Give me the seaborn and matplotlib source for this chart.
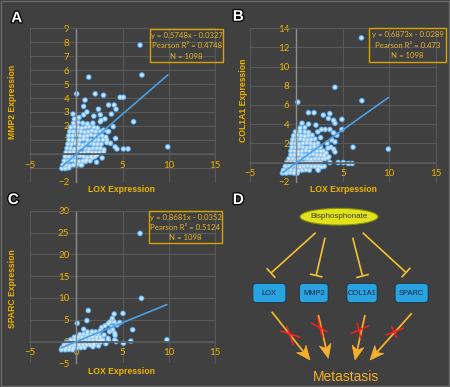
import matplotlib
matplotlib.use("Agg")
import numpy as np
import pandas as pd
import seaborn as sns
import matplotlib.pyplot as plt
from matplotlib.patches import Ellipse, FancyBboxPatch, Rectangle, Polygon
import matplotlib.patheffects as pe

# ---------------- data ----------------
# Panel A: LOX vs MMP2
a_points = [
    (6.9, 7.8), (7.1, 5.65), (1.35, 5.5), (0.05, 4.3), (2.05, 4.3), (2.95, 4.2), (4.75, 4.05), (5.1, 4.05),
    (0.95, 3.85), (3.5, 3.5), (4.1, 3.5), (4.3, 3.2), (0.8, 3.4), (1.15, 3.0), (3.8, 2.85), (2.4, 3.2),
    (2.6, 2.8), (1.9, 2.7), (-0.35, 2.85), (3.1, 2.5), (2.6, 2.3), (4.0, 1.95), (3.5, 1.6), (2.95, 1.7),
    (6.2, 2.3), (3.3, 1.0), (3.7, 0.75), (4.2, 0.5), (4.4, 0.35), (5.1, 0.35), (5.6, 0.35), (9.9, 0.5),
    (2.95, 0.15), (2.2, -0.1), (1.7, -0.3), (1.0, -0.55), (0.6, -0.8), (4.25, 1.1),
    (-0.3, 2.2), (0.2, 2.25), (0.7, 2.2), (1.2, 2.15), (1.8, 2.2),
    (-0.6, 1.9), (-0.2, 1.95), (0.2, 1.9), (0.6, 1.85), (1.0, 1.9), (1.4, 1.95), (1.9, 1.9), (2.3, 1.85),
    (-0.7, 1.6), (-0.3, 1.6), (0.1, 1.65), (0.5, 1.6), (0.9, 1.55), (1.3, 1.6), (1.7, 1.65), (2.1, 1.6), (2.6, 1.6),
    (-0.8, 1.3), (-0.4, 1.3), (0.0, 1.35), (0.4, 1.3), (0.8, 1.25), (1.2, 1.3), (1.6, 1.35), (2.0, 1.3), (2.4, 1.3), (2.8, 1.3),
    (-0.8, 1.0), (-0.4, 1.0), (0.0, 0.95), (0.4, 1.0), (0.8, 1.05), (1.2, 1.0), (1.6, 0.95), (2.0, 1.0), (2.4, 1.0), (2.9, 1.0),
    (-0.9, 0.7), (-0.5, 0.7), (-0.1, 0.75), (0.3, 0.7), (0.7, 0.65), (1.1, 0.7), (1.5, 0.75), (1.9, 0.7), (2.3, 0.7), (2.7, 0.7),
    (-1.0, 0.4), (-0.6, 0.4), (-0.2, 0.35), (0.2, 0.4), (0.6, 0.45), (1.0, 0.4), (1.4, 0.35), (1.8, 0.4), (2.2, 0.4), (2.6, 0.4),
    (-1.1, 0.1), (-0.7, 0.1), (-0.3, 0.15), (0.1, 0.1), (0.5, 0.05), (0.9, 0.1), (1.3, 0.15), (1.7, 0.1), (2.1, 0.1), (2.5, 0.1),
    (-1.2, -0.2), (-0.8, -0.2), (-0.4, -0.25), (0.0, -0.2), (0.4, -0.15), (0.8, -0.2), (1.2, -0.25), (1.6, -0.2), (2.0, -0.2),
    (-1.3, -0.5), (-0.9, -0.5), (-0.5, -0.45), (-0.1, -0.5), (0.3, -0.55), (0.7, -0.5), (1.1, -0.45), (1.5, -0.5),
    (-1.45, -0.8), (-1.1, -0.8), (-0.7, -0.85), (-0.3, -0.8), (0.1, -0.75), (0.5, -0.8),
    (-1.55, -1.05), (-1.2, -1.05), (-0.8, -1.0),
    (2.7, 2.4), (0.3, 2.6), (0.8, 2.8), (-0.2, 2.5), (3.2, 1.2), (3.3, 0.8), (3.0, 0.3), (2.8, -0.3), (2.2, -0.6), (3.4, 1.6),
]
a_fit = (0.5748, -0.0327)
a_stats = ["y = 0.5748x - 0.0327", "Pearson R\u00b2 = 0.4748", "N = 1098"]

# Panel B: LOX vs COL1A1
b_points = [
    (7.0, 13.0), (4.15, 7.85), (0.15, 6.3), (7.05, 6.45), (3.6, 5.1), (1.3, 5.2), (1.9, 5.2), (2.9, 4.95),
    (3.45, 4.6), (4.0, 4.4), (4.15, 4.1), (4.9, 4.5), (2.1, 3.9), (2.7, 3.45), (3.1, 3.45), (3.6, 3.45),
    (4.0, 3.1), (4.35, 2.85), (4.9, 3.45), (3.8, 2.35), (4.15, 2.15), (6.1, 1.6), (9.9, 1.4), (4.0, 1.4),
    (4.15, 1.1), (3.0, 0.7), (3.4, 0.5), (4.5, 0.0), (5.05, 0.0), (3.6, 0.0), (5.6, -0.1), (6.0, -0.1),
    (2.7, -0.45), (2.35, -0.8), (3.2, 1.0), (3.7, 1.6),
    (0.4, 3.6), (0.9, 3.65),
    (-0.1, 3.2), (0.4, 3.25), (0.9, 3.2), (1.3, 3.15),
    (-0.3, 2.8), (0.1, 2.85), (0.5, 2.8), (0.9, 2.75), (1.3, 2.8), (1.7, 2.85),
    (-0.4, 2.4), (0.0, 2.4), (0.4, 2.45), (0.8, 2.4), (1.2, 2.35), (1.6, 2.4), (2.0, 2.45),
    (-0.5, 2.0), (-0.1, 2.0), (0.3, 1.95), (0.7, 2.0), (1.1, 2.05), (1.5, 2.0), (1.9, 1.95), (2.3, 2.0),
    (-0.5, 1.6), (-0.1, 1.6), (0.3, 1.65), (0.7, 1.6), (1.1, 1.55), (1.5, 1.6), (1.9, 1.65), (2.3, 1.6), (2.6, 1.6),
    (-0.6, 1.2), (-0.2, 1.2), (0.2, 1.15), (0.6, 1.2), (1.0, 1.25), (1.4, 1.2), (1.8, 1.15), (2.2, 1.2), (2.6, 1.2), (2.9, 1.2),
    (-0.6, 0.8), (-0.2, 0.8), (0.2, 0.85), (0.6, 0.8), (1.0, 0.75), (1.4, 0.8), (1.8, 0.85), (2.2, 0.8), (2.6, 0.8), (3.0, 0.8),
    (-0.8, 0.4), (-0.4, 0.4), (0.0, 0.35), (0.4, 0.4), (0.8, 0.45), (1.2, 0.4), (1.6, 0.35), (2.0, 0.4), (2.4, 0.4), (2.8, 0.4), (3.1, 0.4),
    (-1.0, 0.0), (-0.6, 0.0), (-0.2, 0.05), (0.2, 0.0), (0.6, -0.05), (1.0, 0.0), (1.4, 0.05), (1.8, 0.0), (2.2, 0.0), (2.6, 0.0),
    (-1.2, -0.4), (-0.8, -0.4), (-0.4, -0.35), (0.0, -0.4), (0.4, -0.45), (0.8, -0.4), (1.2, -0.35), (1.6, -0.4), (2.0, -0.4), (2.4, -0.4),
    (-1.4, -0.8), (-1.0, -0.8), (-0.6, -0.75), (-0.2, -0.8), (0.2, -0.85), (0.6, -0.8), (1.0, -0.75), (1.4, -0.8),
    (-1.5, -1.1), (-1.1, -1.1), (-0.7, -1.05), (-0.3, -1.1), (0.1, -1.1),
    (1.3, 4.0), (2.3, 3.2), (2.6, 2.6), (3.3, 2.0), (3.4, 1.5), (3.0, -0.4), (2.3, -0.7), (3.5, 0.6), (0.6, 4.1),
]
b_fit = (0.6873, -0.0289)
b_stats = ["y = 0.6873x - 0.0289", "Pearson R\u00b2 = 0.473", "N = 1098"]

# Panel C: LOX vs SPARC
c_points = [
    (6.9, 24.8), (7.05, 9.9), (1.3, 7.1), (1.15, 4.8), (0.1, 4.2), (4.1, 6.3), (5.05, 6.45), (3.9, 5.3),
    (3.65, 4.5), (4.1, 4.5), (3.45, 4.1), (3.1, 3.6), (3.85, 3.4), (4.4, 3.8), (2.75, 3.2), (3.95, 2.7),
    (4.15, 1.9), (3.6, 2.25), (6.1, 2.7), (3.45, 0.73), (4.15, 0.34), (5.1, -0.41), (5.9, 0.1), (2.75, 0.34),
    (2.4, 0.0), (1.9, -0.4), (4.7, 4.35), (4.2, 1.4), (4.3, 0.0), (9.8, 0.4), (1.6, 1.2),
    (1.2, 2.2), (1.7, 2.25), (2.1, 2.2),
    (0.4, 1.6), (0.8, 1.65), (1.2, 1.6), (1.6, 1.55), (2.0, 1.6), (2.4, 1.65),
    (-0.2, 1.0), (0.2, 1.05), (0.6, 1.0), (1.0, 0.95), (1.4, 1.0), (1.8, 1.05), (2.2, 1.0), (2.6, 1.0),
    (-0.6, 0.4), (-0.2, 0.4), (0.2, 0.35), (0.6, 0.4), (1.0, 0.45), (1.4, 0.4), (1.8, 0.35), (2.2, 0.4), (2.6, 0.4), (2.9, 0.4),
    (-1.0, -0.2), (-0.6, -0.2), (-0.2, -0.25), (0.2, -0.2), (0.6, -0.15), (1.0, -0.2), (1.4, -0.25), (1.8, -0.2), (2.2, -0.2), (2.6, -0.2),
    (-1.3, -0.8), (-0.9, -0.8), (-0.5, -0.75), (-0.1, -0.8), (0.3, -0.85), (0.7, -0.8), (1.1, -0.75), (1.5, -0.8), (1.9, -0.8),
    (-1.5, -1.4), (-1.1, -1.4), (-0.7, -1.35), (-0.3, -1.4), (0.1, -1.45), (0.5, -1.4), (0.9, -1.35),
    (-1.6, -1.9), (-1.2, -1.9), (-0.8, -1.85), (-0.4, -1.9),
    (2.6, 2.5), (3.0, 1.5), (3.2, -0.5), (2.4, -1.0), (1.8, -1.2), (3.5, 0.2), (0.8, 2.8),
]
c_fit = (0.8681, -0.0352)
c_stats = ["y = 0.8681x - 0.0352", "Pearson R\u00b2 = 0.5124", "N = 1098"]

x_ticks = [-5, 0, 5, 10, 15]
a_yticks = [-2, -1, 0, 1, 2, 3, 4, 5, 6, 7, 8, 9]
b_yticks = [-2, 0, 2, 4, 6, 8, 10, 12, 14]
c_yticks = [-5, 0, 5, 10, 15, 20, 25, 30]

genes = ["LOX", "MMP2", "COL1A1", "SPARC"]

# ---------------- style ----------------
BG = "#404040"
GRID = "#585858"
GOLD = "#f0b400"
sns.set_theme(style="dark", rc={"axes.facecolor": BG, "figure.facecolor": BG})
plt.rcParams['font.family'] = ['Lato', 'DejaVu Sans']

W, H = 450, 387
fig = plt.figure(figsize=(4.5, 3.87), dpi=100, facecolor=BG)


def px_axes(l, t, r, b):
    return fig.add_axes([l / W, 1 - b / H, (r - l) / W, (b - t) / H])


def draw_panel(ax, pts, fit, ylim, yticks):
    df = pd.DataFrame(pts, columns=["x", "y"])
    ax.set_facecolor(BG)
    # glowing dots: blue halo, light-blue body, pale centre
    sns.scatterplot(data=df, x="x", y="y", ax=ax, s=18, color="#3a8fdc", linewidth=0,
                    edgecolor="none", zorder=2)
    sns.scatterplot(data=df, x="x", y="y", ax=ax, s=11, color="#9ccdf4", linewidth=0,
                    edgecolor="none", zorder=2.1)
    sns.scatterplot(data=df, x="x", y="y", ax=ax, s=2.5, color="#dcf0ff", linewidth=0,
                    edgecolor="none", zorder=2.2)
    xs = [df.x.min(), df.x.max()]
    line = pd.DataFrame({"x": xs, "y": [fit[0] * v + fit[1] for v in xs]})
    sns.lineplot(data=line, x="x", y="y", ax=ax, color="#4aa0e8", lw=1.2, zorder=3)
    ax.set_xlim(-5, 15)
    ax.set_ylim(*ylim)
    ax.set_xticks(x_ticks)
    ax.set_yticks(yticks)
    ax.grid(True, color=GRID, lw=0.8)
    ax.set_axisbelow(True)
    for s in ["top", "right"]:
        ax.spines[s].set_color(GRID)
        ax.spines[s].set_linewidth(0.8)
    ax.spines["left"].set_position(("data", 0))
    ax.spines["left"].set_color("#8c8c8c")
    ax.spines["left"].set_linewidth(1.0)
    ax.spines["bottom"].set_position(("data", 0))
    ax.spines["bottom"].set_color(GRID)
    ax.tick_params(length=0, pad=5, labelsize=7, labelcolor=GOLD)
    ax.set_xlabel("")
    ax.set_ylabel("")


axA = px_axes(30, 28.3, 215, 181.7)
draw_panel(axA, a_points, a_fit, (-2, 9), a_yticks)
axB = px_axes(250, 28.3, 435.7, 181.7)
draw_panel(axB, b_points, b_fit, (-2, 14), b_yticks)
axC = px_axes(30, 210.7, 215, 363.3)
draw_panel(axC, c_points, c_fit, (-5, 30), c_yticks)

# ---------------- overlay (pixel coordinates) ----------------
ov = fig.add_axes([0, 0, 1, 1], zorder=10)
ov.set_xlim(0, W)
ov.set_ylim(H, 0)
ov.axis("off")
ov.patch.set_alpha(0)

ov.add_patch(Rectangle((0.5, 0.5), W - 2, H - 1.5, fill=False, ec="#6a6a6a", lw=1))

letter_fx = [pe.withStroke(linewidth=1.8, foreground="black")]
for (lx, ly, lt) in [(16.7, 18.3, "A"), (238.3, 16.7, "B"), (13.3, 200, "C"), (238.3, 200, "D")]:
    ov.text(lx, ly, lt, color="white", fontsize=11, fontweight="bold", ha="center", va="center",
            family="Liberation Sans", path_effects=letter_fx)

lab = dict(color=GOLD, fontsize=6.2, fontweight="bold", ha="center", va="center",
           family="Liberation Sans")
ov.text(121.7, 189, "LOX Expression", **lab)
ov.text(13, 102, "MMP2 Expression", rotation=90, **lab)
ov.text(343.3, 189, "LOX Exrpession", **lab)
ov.text(243.3, 100, "COL1A1 Expression", rotation=90, **lab)
ov.text(121.7, 371.7, "LOX Expression", **lab)
ov.text(13, 288.3, "SPARC Expression", rotation=90, **lab)

for (x0, y0, x1, y1, lines) in [(150, 29, 223, 62, a_stats), (369, 28, 446, 62, b_stats),
                                (149.3, 210.7, 221.7, 243.3, c_stats)]:
    ov.add_patch(Rectangle((x0, y0), x1 - x0, y1 - y0, fill=False, ec="#d9a400", lw=1))
    cx = (x0 + x1) / 2
    hgt = y1 - y0
    for i, t in enumerate(lines):
        ov.text(cx, y0 + hgt * (0.2 + 0.31 * i), t, color="#e8b42a", fontsize=5.6,
                ha="center", va="center")

# ---------------- panel D diagram ----------------
ARIAL = "Liberation Sans"
ov.add_patch(Ellipse((339, 216.7), 78, 16.7, fc="#e2e21a", ec="#8c8c10", lw=0.8))
ov.text(339, 217, "Bisphosphonate", fontsize=5.8, color="#3a3a20", ha="center", va="center", family=ARIAL)

YEL = "#f2c232"
t_lines = [((315.7, 232.7), (271, 273)), ((325, 237.7), (316.2, 275.5)),
           ((352.7, 237.7), (362.5, 276)), ((362.7, 232.7), (406, 272.5))]
for (s, e) in t_lines:
    s = np.array(s); e = np.array(e)
    ov.plot([s[0], e[0]], [s[1], e[1]], color=YEL, lw=1.2, solid_capstyle="butt")
    d = (e - s) / np.linalg.norm(e - s)
    n = np.array([-d[1], d[0]])
    a = e + n * 6.5
    b = e - n * 6.5
    ov.plot([a[0], b[0]], [a[1], b[1]], color=YEL, lw=1.2, solid_capstyle="butt")

boxes = [(252.7, 286.0), (299.3, 328.3), (346.7, 377.3), (395.0, 428.3)]
for (x0, x1), g in zip(boxes, genes):
    ov.add_patch(FancyBboxPatch((x0, 283.3), x1 - x0, 19.4, boxstyle="round,pad=0,rounding_size=4",
                                fc="#28a3e0", ec="#2a3a48", lw=0.9))
    ov.text((x0 + x1) / 2, 293.2, g, fontsize=5.4, color="#0f2440", ha="center", va="center", family=ARIAL)

ORG = "#f5b02c"
arrows = [((271.7, 311.7), (310, 360)), ((318.3, 315), (328.3, 358.3)),
          ((365, 315), (355, 360)), ((411.7, 313.3), (370, 360))]
for (s, t) in arrows:
    s = np.array(s); t = np.array(t)
    d = (t - s) / np.linalg.norm(t - s)
    n = np.array([-d[1], d[0]])
    L, Wd = 14, 12
    base = t - d * L
    notch = t - d * L * 0.72
    ov.plot([s[0], notch[0]], [s[1], notch[1]], color=ORG, lw=1.3, solid_capstyle="butt")
    ov.add_patch(Polygon([t, base + n * Wd / 2, notch, base - n * Wd / 2], closed=True, fc=ORG, ec=ORG, lw=0.5))

RED = "#ff1e1e"
x_marks = [[((280.7, 331), (300, 337.3)), ((286.7, 326), (293.3, 345))],
           [((311.7, 323.3), (327.3, 331.7)), ((317.3, 316.7), (322.7, 337.3))],
           [((351.7, 333.3), (368.3, 326)), ((357.3, 323.3), (360.7, 338.3))],
           [((386, 335), (403.3, 328.3)), ((391.7, 326.7), (396.7, 337.3))]]
for mark in x_marks:
    for (p, q) in mark:
        ov.plot([p[0], q[0]], [p[1], q[1]], color=RED, lw=1.1)

ov.text(345.7, 376.7, "Metastasis", fontsize=10, color=ORG, ha="center", va="center", family=ARIAL)

fig.savefig("out.png", dpi=100, facecolor=BG)
